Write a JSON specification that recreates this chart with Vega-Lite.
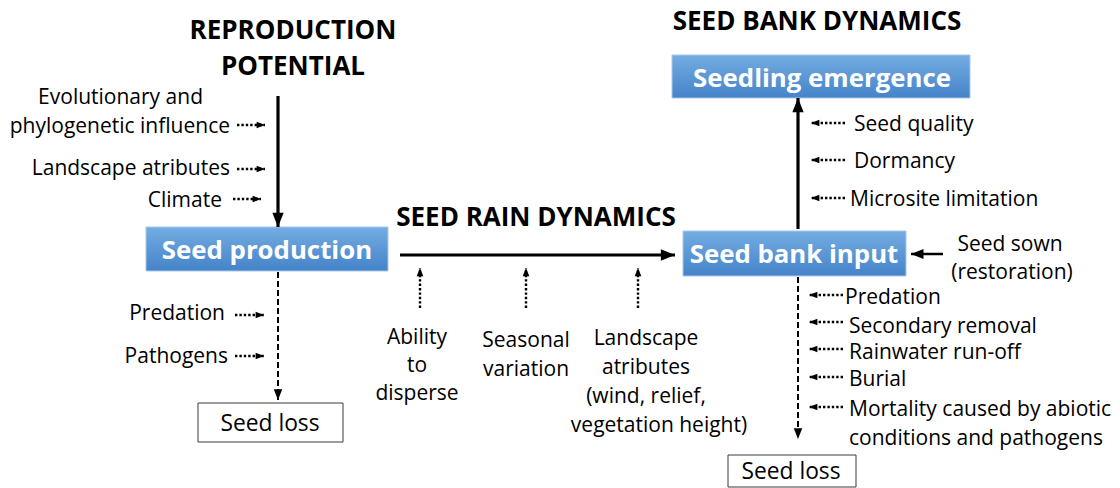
{
  "$schema": "https://vega.github.io/schema/vega-lite/v6.json",
  "width": 1120,
  "height": 488,
  "autosize": {"type": "fit", "contains": "padding"},
  "padding": 0,
  "background": "white",
  "config": {"view": {"stroke": null}, "font": "Open Sans"},
  "datasets": {
    "boxes": [
      {"name": "Seed production", "kind": "process", "x1": 146, "x2": 388, "y1": 227, "y2": 271},
      {"name": "Seedling emergence", "kind": "process", "x1": 672, "x2": 970, "y1": 55, "y2": 98},
      {"name": "Seed bank input", "kind": "process", "x1": 683, "x2": 906, "y1": 231, "y2": 276},
      {"name": "Seed loss (production)", "kind": "outcome", "x1": 198, "x2": 343, "y1": 403, "y2": 442},
      {"name": "Seed loss (bank)", "kind": "outcome", "x1": 728, "x2": 856, "y1": 455, "y2": 487}
    ],
    "links": [
      {"x": 278, "y": 96, "x2": 278, "y2": 227, "style": "main", "dir": "down"},
      {"x": 400, "y": 255, "x2": 675, "y2": 255, "style": "main", "dir": "right"},
      {"x": 798, "y": 229, "x2": 798, "y2": 98, "style": "main", "dir": "up"},
      {"x": 943, "y": 254, "x2": 911, "y2": 254, "style": "input", "dir": "left"},
      {"x": 278, "y": 272, "x2": 278, "y2": 400, "style": "loss", "dir": "down"},
      {"x": 798, "y": 277, "x2": 798, "y2": 439, "style": "loss", "dir": "down"},
      {"x": 237, "y": 125, "x2": 265, "y2": 125, "style": "influence", "dir": "right"},
      {"x": 237, "y": 169, "x2": 265, "y2": 169, "style": "influence", "dir": "right"},
      {"x": 233, "y": 199, "x2": 261, "y2": 199, "style": "influence", "dir": "right"},
      {"x": 235, "y": 315, "x2": 264, "y2": 315, "style": "influence", "dir": "right"},
      {"x": 235, "y": 356, "x2": 264, "y2": 356, "style": "influence", "dir": "right"},
      {"x": 420, "y": 308, "x2": 420, "y2": 268, "style": "influence", "dir": "up"},
      {"x": 526, "y": 308, "x2": 526, "y2": 268, "style": "influence", "dir": "up"},
      {"x": 638, "y": 308, "x2": 638, "y2": 268, "style": "influence", "dir": "up"},
      {"x": 845, "y": 123, "x2": 811, "y2": 123, "style": "influence", "dir": "left"},
      {"x": 845, "y": 160, "x2": 811, "y2": 160, "style": "influence", "dir": "left"},
      {"x": 845, "y": 198, "x2": 811, "y2": 198, "style": "influence", "dir": "left"},
      {"x": 843, "y": 295, "x2": 809, "y2": 295, "style": "influence", "dir": "left"},
      {"x": 843, "y": 322, "x2": 809, "y2": 322, "style": "influence", "dir": "left"},
      {"x": 843, "y": 349, "x2": 809, "y2": 349, "style": "influence", "dir": "left"},
      {"x": 843, "y": 377, "x2": 809, "y2": 377, "style": "influence", "dir": "left"},
      {"x": 843, "y": 407, "x2": 809, "y2": 407, "style": "influence", "dir": "left"}
    ],
    "labels": [
      {"text": "REPRODUCTION", "role": "title", "anchor": "middle", "x": 293, "y": 31},
      {"text": "POTENTIAL", "role": "title", "anchor": "middle", "x": 293, "y": 67},
      {"text": "SEED BANK DYNAMICS", "role": "title", "anchor": "middle", "x": 817, "y": 22},
      {"text": "SEED RAIN DYNAMICS", "role": "title", "anchor": "middle", "x": 536, "y": 218},
      {"text": "Seed production", "role": "box", "anchor": "middle", "x": 267, "y": 249},
      {"text": "Seedling emergence", "role": "box", "anchor": "middle", "x": 822, "y": 77},
      {"text": "Seed bank input", "role": "box", "anchor": "middle", "x": 794, "y": 253},
      {"text": "Seed loss", "role": "outcome", "anchor": "middle", "x": 270, "y": 422},
      {"text": "Seed loss", "role": "outcome", "anchor": "middle", "x": 791, "y": 470},
      {"text": "Evolutionary and", "role": "body", "anchor": "end", "x": 203, "y": 96},
      {"text": "phylogenetic influence", "role": "body", "anchor": "end", "x": 230, "y": 125},
      {"text": "Landscape atributes", "role": "body", "anchor": "end", "x": 230, "y": 167},
      {"text": "Climate", "role": "body", "anchor": "end", "x": 222, "y": 199},
      {"text": "Predation", "role": "body", "anchor": "end", "x": 225, "y": 312},
      {"text": "Pathogens", "role": "body", "anchor": "end", "x": 228, "y": 355},
      {"text": "Ability", "role": "body", "anchor": "middle", "x": 417, "y": 336},
      {"text": "to", "role": "body", "anchor": "middle", "x": 417, "y": 364},
      {"text": "disperse", "role": "body", "anchor": "middle", "x": 417, "y": 392},
      {"text": "Seasonal", "role": "body", "anchor": "middle", "x": 526, "y": 339},
      {"text": "variation", "role": "body", "anchor": "middle", "x": 526, "y": 368},
      {"text": "Landscape", "role": "body", "anchor": "middle", "x": 646, "y": 337},
      {"text": "atributes", "role": "body", "anchor": "middle", "x": 646, "y": 366},
      {"text": "(wind, relief,", "role": "body", "anchor": "middle", "x": 646, "y": 395},
      {"text": "vegetation height)", "role": "body", "anchor": "middle", "x": 659, "y": 424},
      {"text": "Seed quality", "role": "body", "anchor": "start", "x": 854, "y": 123},
      {"text": "Dormancy", "role": "body", "anchor": "start", "x": 854, "y": 160},
      {"text": "Microsite limitation", "role": "body", "anchor": "start", "x": 850, "y": 198},
      {"text": "Seed sown", "role": "body", "anchor": "middle", "x": 1010, "y": 243},
      {"text": "(restoration)", "role": "body", "anchor": "middle", "x": 1012, "y": 271},
      {"text": "Predation", "role": "body", "anchor": "start", "x": 845, "y": 296},
      {"text": "Secondary removal", "role": "body", "anchor": "start", "x": 849, "y": 325},
      {"text": "Rainwater run-off", "role": "body", "anchor": "start", "x": 849, "y": 351},
      {"text": "Burial", "role": "body", "anchor": "start", "x": 849, "y": 378},
      {"text": "Mortality caused by abiotic", "role": "body", "anchor": "start", "x": 849, "y": 408},
      {"text": "conditions and pathogens", "role": "body", "anchor": "start", "x": 849, "y": 437}
    ]
  },
  "layer": [
    {
      "data": {"name": "boxes"},
      "transform": [{"filter": "datum.kind === 'process'"}],
      "mark": {
        "type": "rect",
        "fill": {"gradient": "linear", "x1": 0, "y1": 0, "x2": 0, "y2": 1,
          "stops": [{"offset": 0, "color": "#74ade2"}, {"offset": 1, "color": "#4583c9"}]},
        "stroke": "#a9c9ea",
        "strokeWidth": 1
      },
      "encoding": {
        "x": {"field": "x1", "type": "quantitative", "scale": {"domain": [0, 1120], "nice": false, "zero": false}, "axis": null},
        "x2": {"field": "x2"},
        "y": {"field": "y1", "type": "quantitative", "scale": {"domain": [0, 488], "nice": false, "zero": false, "reverse": true}, "axis": null},
        "y2": {"field": "y2"}
      }
    },
    {
      "data": {"name": "boxes"},
      "transform": [{"filter": "datum.kind === 'outcome'"}],
      "mark": {"type": "rect", "fill": "white", "stroke": "#3a3a3a", "strokeWidth": 1},
      "encoding": {
        "x": {"field": "x1", "type": "quantitative", "scale": {"domain": [0, 1120], "nice": false, "zero": false}, "axis": null},
        "x2": {"field": "x2"},
        "y": {"field": "y1", "type": "quantitative", "scale": {"domain": [0, 488], "nice": false, "zero": false, "reverse": true}, "axis": null},
        "y2": {"field": "y2"}
      }
    },
    {
      "data": {"name": "links"},
      "transform": [{"filter": "datum.style === 'main'"}],
      "mark": {"type": "rule", "color": "black", "strokeWidth": 3.2},
      "encoding": {
        "x": {"field": "x", "type": "quantitative", "scale": {"domain": [0, 1120], "nice": false, "zero": false}, "axis": null},
        "x2": {"field": "x2"},
        "y": {"field": "y", "type": "quantitative", "scale": {"domain": [0, 488], "nice": false, "zero": false, "reverse": true}, "axis": null},
        "y2": {"field": "y2"}
      }
    },
    {
      "data": {"name": "links"},
      "transform": [{"filter": "datum.style === 'input'"}],
      "mark": {"type": "rule", "color": "black", "strokeWidth": 2.5},
      "encoding": {
        "x": {"field": "x", "type": "quantitative", "scale": {"domain": [0, 1120], "nice": false, "zero": false}, "axis": null},
        "x2": {"field": "x2"},
        "y": {"field": "y", "type": "quantitative", "scale": {"domain": [0, 488], "nice": false, "zero": false, "reverse": true}, "axis": null},
        "y2": {"field": "y2"}
      }
    },
    {
      "data": {"name": "links"},
      "transform": [{"filter": "datum.style === 'loss'"}],
      "mark": {"type": "rule", "color": "black", "strokeWidth": 2, "strokeDash": [6, 3]},
      "encoding": {
        "x": {"field": "x", "type": "quantitative", "scale": {"domain": [0, 1120], "nice": false, "zero": false}, "axis": null},
        "x2": {"field": "x2"},
        "y": {"field": "y", "type": "quantitative", "scale": {"domain": [0, 488], "nice": false, "zero": false, "reverse": true}, "axis": null},
        "y2": {"field": "y2"}
      }
    },
    {
      "data": {"name": "links"},
      "transform": [{"filter": "datum.style === 'influence'"}],
      "mark": {"type": "rule", "color": "black", "strokeWidth": 2.4, "strokeDash": [2.4, 2]},
      "encoding": {
        "x": {"field": "x", "type": "quantitative", "scale": {"domain": [0, 1120], "nice": false, "zero": false}, "axis": null},
        "x2": {"field": "x2"},
        "y": {"field": "y", "type": "quantitative", "scale": {"domain": [0, 488], "nice": false, "zero": false, "reverse": true}, "axis": null},
        "y2": {"field": "y2"}
      }
    },
    {
      "data": {"name": "links"},
      "mark": {"type": "point", "filled": true, "color": "black", "opacity": 1, "strokeWidth": 0},
      "encoding": {
        "x": {"field": "x2", "type": "quantitative", "scale": {"domain": [0, 1120], "nice": false, "zero": false}, "axis": null},
        "y": {"field": "y2", "type": "quantitative", "scale": {"domain": [0, 488], "nice": false, "zero": false, "reverse": true}, "axis": null},
        "shape": {"field": "dir", "type": "nominal", "legend": null,
          "scale": {"domain": ["down", "up", "left", "right"],
            "range": ["M0,0L-0.8,-2L0.8,-2Z", "M0,0L-0.8,2L0.8,2Z", "M0,0L2,-0.8L2,0.8Z", "M0,0L-2,-0.8L-2,0.8Z"]}},
        "size": {"field": "style", "type": "nominal", "legend": null,
          "scale": {"domain": ["main", "input", "loss", "influence"], "range": [200, 70, 55, 50]}}
      }
    },
    {
      "data": {"name": "labels"},
      "transform": [{"filter": "datum.role === 'title'"}],
      "mark": {"type": "text", "font": "Open Sans", "fontWeight": "bold", "fontSize": 26, "color": "black", "align": "center", "baseline": "middle"},
      "encoding": {
        "x": {"field": "x", "type": "quantitative", "scale": {"domain": [0, 1120], "nice": false, "zero": false}, "axis": null},
        "y": {"field": "y", "type": "quantitative", "scale": {"domain": [0, 488], "nice": false, "zero": false, "reverse": true}, "axis": null},
        "text": {"field": "text"}
      }
    },
    {
      "data": {"name": "labels"},
      "transform": [{"filter": "datum.role === 'box'"}],
      "mark": {"type": "text", "font": "Open Sans", "fontWeight": "bold", "fontSize": 25.8, "color": "white", "align": "center", "baseline": "middle", "dy": 1.5},
      "encoding": {
        "x": {"field": "x", "type": "quantitative", "scale": {"domain": [0, 1120], "nice": false, "zero": false}, "axis": null},
        "y": {"field": "y", "type": "quantitative", "scale": {"domain": [0, 488], "nice": false, "zero": false, "reverse": true}, "axis": null},
        "text": {"field": "text"}
      }
    },
    {
      "data": {"name": "labels"},
      "transform": [{"filter": "datum.role === 'outcome'"}],
      "mark": {"type": "text", "font": "Open Sans", "fontSize": 22.8, "color": "black", "align": "center", "baseline": "middle", "dy": 1.5},
      "encoding": {
        "x": {"field": "x", "type": "quantitative", "scale": {"domain": [0, 1120], "nice": false, "zero": false}, "axis": null},
        "y": {"field": "y", "type": "quantitative", "scale": {"domain": [0, 488], "nice": false, "zero": false, "reverse": true}, "axis": null},
        "text": {"field": "text"}
      }
    },
    {
      "data": {"name": "labels"},
      "transform": [{"filter": "datum.role === 'body' && datum.anchor === 'middle'"}],
      "mark": {"type": "text", "font": "Open Sans", "fontSize": 21, "color": "black", "align": "center", "baseline": "middle", "dy": 1.5},
      "encoding": {
        "x": {"field": "x", "type": "quantitative", "scale": {"domain": [0, 1120], "nice": false, "zero": false}, "axis": null},
        "y": {"field": "y", "type": "quantitative", "scale": {"domain": [0, 488], "nice": false, "zero": false, "reverse": true}, "axis": null},
        "text": {"field": "text"}
      }
    },
    {
      "data": {"name": "labels"},
      "transform": [{"filter": "datum.role === 'body' && datum.anchor === 'end'"}],
      "mark": {"type": "text", "font": "Open Sans", "fontSize": 21, "color": "black", "align": "right", "baseline": "middle", "dy": 1.5},
      "encoding": {
        "x": {"field": "x", "type": "quantitative", "scale": {"domain": [0, 1120], "nice": false, "zero": false}, "axis": null},
        "y": {"field": "y", "type": "quantitative", "scale": {"domain": [0, 488], "nice": false, "zero": false, "reverse": true}, "axis": null},
        "text": {"field": "text"}
      }
    },
    {
      "data": {"name": "labels"},
      "transform": [{"filter": "datum.role === 'body' && datum.anchor === 'start'"}],
      "mark": {"type": "text", "font": "Open Sans", "fontSize": 21, "color": "black", "align": "left", "baseline": "middle", "dy": 1.5},
      "encoding": {
        "x": {"field": "x", "type": "quantitative", "scale": {"domain": [0, 1120], "nice": false, "zero": false}, "axis": null},
        "y": {"field": "y", "type": "quantitative", "scale": {"domain": [0, 488], "nice": false, "zero": false, "reverse": true}, "axis": null},
        "text": {"field": "text"}
      }
    }
  ]
}
